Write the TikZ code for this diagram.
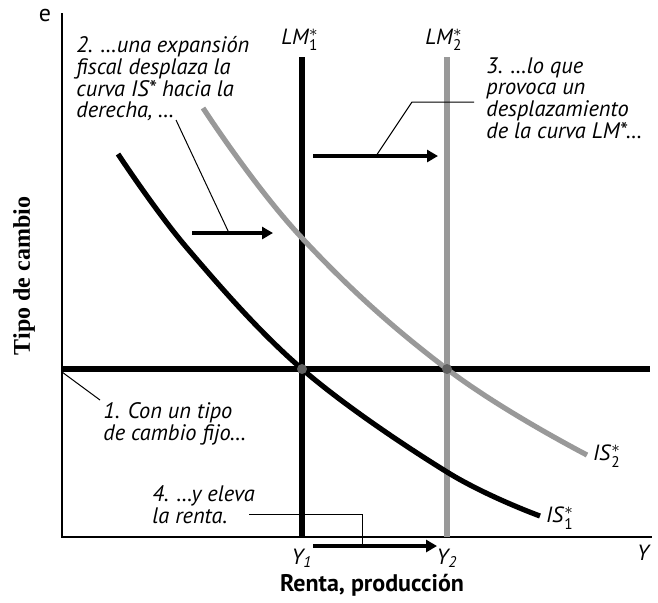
\documentclass[tikz,border=0pt]{standalone}
\usepackage{amsmath}
\usepackage{fontspec}
\setmainfont{PT Sans}
\newfontfamily\axisserif{Liberation Serif}
\usetikzlibrary{arrows.meta,positioning,calc}
\definecolor{curvegray}{gray}{0.6}
\definecolor{dotgray}{gray}{0.38}
\tikzset{
  axisline/.style   = {line width=0.75pt},
  curve/.style      = {line width=2.6pt},
  shiftarrow/.style = {line width=2.4pt, -{Triangle[length=5.5pt,width=6pt]}},
  leader/.style     = {line width=0.5pt},
  note/.style       = {font=\itshape\fontsize{11.2}{10.9}\selectfont, align=left,
                       inner sep=0pt, anchor=north west},
  curvelab/.style   = {font=\fontsize{11}{12}\selectfont, inner sep=0pt},
  eqpt/.style       = {circle, fill=dotgray, inner sep=0pt, minimum size=5pt},
}
\newcommand{\starlab}[2]{\textit{#1}$^{\ast}_{\textrm{#2}}$}

\begin{document}
\begin{tikzpicture}[x=0.5pt,y=-0.5pt]
\useasboundingbox (0,0) rectangle (658,602);
% ---------- axes ----------
\coordinate (O) at (62,537);
\coordinate (etop) at (62,13);
\coordinate (yend) at (652,537);
\draw[axisline] (etop) -- (O) -- (yend);
\node[font=\fontsize{12}{12}\selectfont] (elab) at (45,15) {e};
\node[font=\itshape\fontsize{11}{12}\selectfont] (ylab) at (643,553) {Y};
\node[font=\bfseries\fontsize{12}{12}\selectfont] (xtitle) at (372,585) {Renta, producción};
\node[font=\axisserif\bfseries\fontsize{12}{12}\selectfont, rotate=90] (etitle) at (24,276) {Tipo de cambio};
% ---------- LM* curves ----------
\coordinate (lm1top) at (302,57);
\coordinate (lm1bot) at (302,537);
\coordinate (lm2top) at (447,57);
\coordinate (lm2bot) at (447,537);
\draw[curve, line width=3pt] (lm1top) -- (lm1bot);
\draw[curve, line width=3pt, curvegray] (lm2top) -- (lm2bot);
\node[curvelab] (lm1lab) at (300,40) {\starlab{LM}{1}};
\node[curvelab] (lm2lab) at (444,40) {\starlab{LM}{2}};
% ---------- fixed exchange rate ----------
\coordinate (fixl) at (62,369);
\coordinate (fixr) at (650,369);
\draw[curve] (fixl) -- (fixr);
% ---------- IS* curves ----------
\draw[curve] plot[smooth, tension=0.6] coordinates
  {(118,154) (187,248) (302,369) (447,472) (540,516)};
\draw[curve, curvegray] plot[smooth, tension=0.7] coordinates
  {(203,108) (302,238) (447,369) (587,455)};
\node[curvelab] (is1lab) at (560,518) {\starlab{IS}{1}};
\node[curvelab] (is2lab) at (607,456) {\starlab{IS}{2}};
% ---------- equilibria ----------
\node[eqpt] (A) at (302,369) {};
\node[eqpt] (B) at (447,369) {};
\node[font=\itshape\fontsize{11}{12}\selectfont] (y1lab) at (302,558) {Y$_{\textrm{1}}$};
\node[font=\itshape\fontsize{11}{12}\selectfont] (y2lab) at (447,558) {Y$_{\textrm{2}}$};
% ---------- shifts ----------
\coordinate (isfrom) at (192,233);
\coordinate (isto) at (273,233);
\coordinate (lmfrom) at (313,156);
\coordinate (lmto) at (438,156);
\coordinate (yfrom) at (313,546);
\coordinate (yto) at (437,546);
\draw[shiftarrow] (isfrom) -- (isto);
\draw[shiftarrow] (lmfrom) -- (lmto);
\draw[shiftarrow] (yfrom) -- (yto);
% ---------- notes ----------
\node[note] (note1) at (103,402) {1. Con un tipo\\de cambio fijo\dots};
\node[note] (note2) at (76,36) {2. \dots una expansión\\fiscal desplaza la\\curva IS* hacia la\\derecha, \dots};
\node[note] (note3) at (486,57) {3. \dots lo que\\provoca un\\desplazamiento\\de la curva LM*\dots};
\node[note] (note4) at (152,485) {4. \dots y eleva\\la renta.};
\coordinate (k1a) at (62,372);
\coordinate (k1b) at (100,400);
\coordinate (k2a) at (176,120);
\coordinate (k2b) at (229,233);
\coordinate (k3a) at (474,102);
\coordinate (k3b) at (412,102);
\coordinate (k3c) at (376,156);
\coordinate (k4a) at (249,514);
\coordinate (k4b) at (362,514);
\coordinate (k4c) at (362,546);
\draw[leader] (k1a) -- (k1b);
\draw[leader] (k2a) -- (k2b);
\draw[leader] (k3a) -- (k3b) -- (k3c);
\draw[leader] (k4a) -- (k4b) -- (k4c);
\end{tikzpicture}
\end{document}
